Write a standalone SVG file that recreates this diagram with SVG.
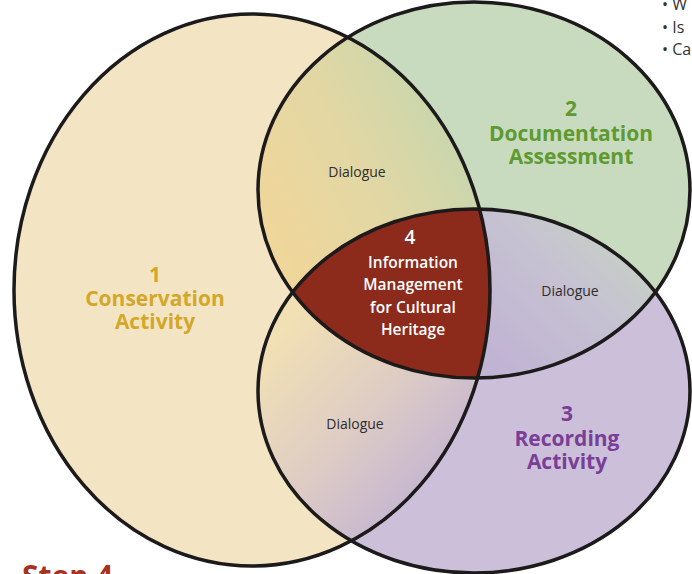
<svg xmlns="http://www.w3.org/2000/svg" width="692" height="574" viewBox="0 0 692 574">
<style>
.outline{fill:none;stroke:#1c1a1a;stroke-width:3.5}
.big{font-family:"Open Sans","Noto Sans","Liberation Sans",sans-serif;font-weight:700;font-size:21px;text-anchor:middle}
.dlg{font-family:"Open Sans","Noto Sans","Liberation Sans",sans-serif;font-size:14px;fill:#2e2e2e;text-anchor:middle}
.ctr{font-family:"Open Sans","Noto Sans","Liberation Sans",sans-serif;font-weight:600;font-size:15.5px;fill:#ffffff;text-anchor:middle}
.side{font-family:"Open Sans","Noto Sans","Liberation Sans",sans-serif;font-size:16px;fill:#333}
</style>
<defs>
<ellipse id="eY" cx="252" cy="290" rx="238" ry="276"/>
<ellipse id="eG" cx="474" cy="190" rx="216" ry="188"/>
<ellipse id="eP" cx="474" cy="391" rx="216" ry="182"/>
<clipPath id="cY"><use href="#eY"/></clipPath>
<clipPath id="cG"><use href="#eG"/></clipPath>
<clipPath id="cP"><use href="#eP"/></clipPath>
<linearGradient id="gYG" gradientUnits="userSpaceOnUse" x1="275" y1="240" x2="470" y2="140">
<stop offset="0" stop-color="#efd69a"/><stop offset="0.5" stop-color="#e2d7a4"/><stop offset="1" stop-color="#c6d6ae"/>
</linearGradient>
<linearGradient id="gYP" gradientUnits="userSpaceOnUse" x1="275" y1="340" x2="440" y2="490">
<stop offset="0" stop-color="#f1e0b4"/><stop offset="0.5" stop-color="#dfcdc4"/><stop offset="1" stop-color="#c3b4d2"/>
</linearGradient>
<linearGradient id="gGP" gradientUnits="userSpaceOnUse" x1="500" y1="370" x2="640" y2="220">
<stop offset="0" stop-color="#c0b3d3"/><stop offset="0.55" stop-color="#c6c2d2"/><stop offset="1" stop-color="#c6d6c0"/>
</linearGradient>
</defs>

<text x="662" y="10" class="side">• W</text>
<text x="662" y="33" class="side">• Is</text>
<text x="662" y="55" class="side">• Ca</text>
<text x="22" y="587" font-family="Open Sans, Liberation Sans, sans-serif" font-weight="700" font-size="30" fill="#a8321f">Step 4</text>

<g id="node1">
<use href="#eY" fill="#f3e5c3"/>
<text class="big" fill="#d4a72a"><tspan x="155" y="282">1</tspan><tspan x="155" y="306">Conservation</tspan><tspan x="155" y="329">Activity</tspan></text>
</g>
<g id="node2">
<use href="#eG" fill="#c9dbbf"/>
<text class="big" fill="#5e9a2f"><tspan x="571" y="116">2</tspan><tspan x="571" y="141">Documentation</tspan><tspan x="571" y="164">Assessment</tspan></text>
</g>
<g id="node3">
<use href="#eP" fill="#cbbfd9"/>
<text class="big" fill="#7a3e96"><tspan x="567" y="421">3</tspan><tspan x="567" y="446">Recording</tspan><tspan x="567" y="469">Activity</tspan></text>
</g>
<g id="dialogue12">
<g clip-path="url(#cY)"><use href="#eG" fill="url(#gYG)"/></g>
<text x="357" y="177" class="dlg">Dialogue</text>
</g>
<g id="dialogue13">
<g clip-path="url(#cY)"><use href="#eP" fill="url(#gYP)"/></g>
<text x="355" y="429" class="dlg">Dialogue</text>
</g>
<g id="dialogue23">
<g clip-path="url(#cG)"><use href="#eP" fill="url(#gGP)"/></g>
<text x="570" y="296" class="dlg">Dialogue</text>
</g>
<g id="node4">
<g clip-path="url(#cY)"><g clip-path="url(#cG)"><use href="#eP" fill="#8c2a1b"/></g></g>
<text class="ctr"><tspan x="410" y="244" font-size="19">4</tspan><tspan x="413" y="268">Information</tspan><tspan x="413" y="290">Management</tspan><tspan x="413" y="313">for Cultural</tspan><tspan x="413" y="335">Heritage</tspan></text>
</g>
<g id="connectors">
<use href="#eY" class="outline"/>
<use href="#eG" class="outline"/>
<use href="#eP" class="outline"/>
</g>
</svg>
